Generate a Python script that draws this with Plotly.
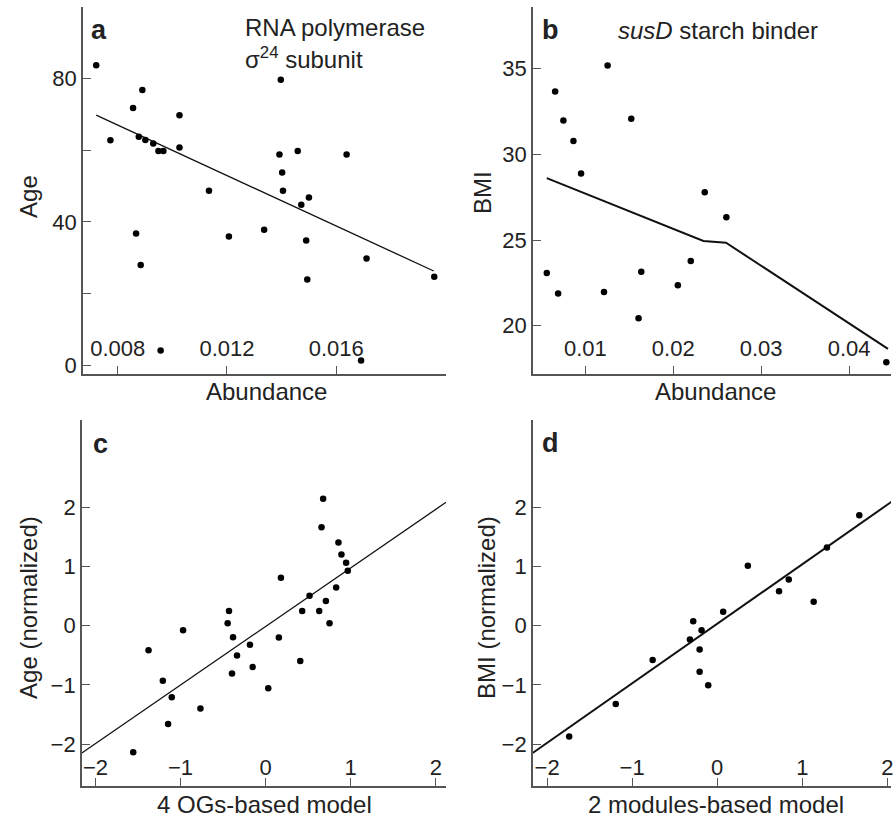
import plotly.graph_objects as go

# ---------------- data ----------------
# Panel a: RNA polymerase sigma24 subunit abundance vs age
a_abund = [0.00721, 0.00773, 0.00856, 0.00890, 0.00877, 0.00901, 0.00930, 0.00949, 0.00967,
           0.01026, 0.01026, 0.00867, 0.00884, 0.00957, 0.01134, 0.01207, 0.01336, 0.01397,
           0.01392, 0.01402, 0.01405, 0.01459, 0.01472, 0.01500, 0.01490, 0.01494, 0.01638,
           0.01711, 0.01691, 0.01959]
a_age = [83.7, 62.8, 71.8, 76.8, 63.8, 62.9, 61.9, 59.8, 59.8,
         69.8, 60.8, 36.8, 28.0, 4.1, 48.7, 35.9, 37.8, 79.7,
         58.8, 53.8, 48.7, 59.8, 44.8, 46.8, 34.8, 23.9, 58.8,
         29.8, 1.3, 24.7]
a_fit_x = [0.00721, 0.01957]
a_fit_y = [69.8, 26.3]

# Panel b: susD starch binder abundance vs BMI
b_abund = [0.00561, 0.00656, 0.00690, 0.00750, 0.00864, 0.00951, 0.01212, 0.01253,
           0.01522, 0.01605, 0.01636, 0.02052, 0.02199, 0.02358, 0.02604, 0.04424]
b_bmi = [23.08, 33.66, 21.88, 31.98, 30.78, 28.88, 21.97, 35.19,
         32.08, 20.43, 23.15, 22.36, 23.77, 27.78, 26.33, 17.87]
b_fit_x = [0.00561, 0.02249, 0.02343, 0.02600, 0.04443]
b_fit_y = [28.61, 25.11, 24.94, 24.84, 18.65]

# Panel c: 4 OGs-based model vs normalized age
c_model = [-1.556, -1.376, -1.208, -1.146, -1.103, -0.970, -0.766, -0.446, -0.430, -0.383,
           -0.395, -0.336, -0.184, -0.152, 0.031, 0.156, 0.180, 0.407, 0.430, 0.516,
           0.630, 0.657, 0.676, 0.708, 0.751, 0.829, 0.856, 0.891, 0.946, 0.966]
c_age = [-2.14, -0.415, -0.93, -1.66, -1.21, -0.078, -1.40, 0.039, 0.246, -0.196,
         -0.807, -0.504, -0.325, -0.700, -1.059, -0.202, 0.807, -0.599, 0.246, 0.504,
         0.246, 1.658, 2.14, 0.415, 0.039, 0.644, 1.40, 1.20, 1.06, 0.924]
c_fit_x = [-2.16, 2.12]
c_fit_y = [-2.15, 2.08]

# Panel d: 2 modules-based model vs normalized BMI
d_model = [-1.740, -1.193, -0.759, -0.282, -0.321, -0.184, -0.207, -0.207, -0.106, 0.070,
           0.360, 0.727, 0.841, 1.134, 1.290, 1.670]
d_bmi = [-1.871, -1.322, -0.583, 0.073, -0.235, -0.078, -0.403, -0.779, -1.008, 0.235,
         1.008, 0.577, 0.779, 0.403, 1.317, 1.860]
d_fit_x = [-2.17, 2.05]
d_fit_y = [-2.15, 2.09]

# tick labels
a_xticks = [0.008, 0.012, 0.016]
a_xlabels = ["0.008", "0.012", "0.016"]
a_xminor = [0.020]
a_yticks = [0, 40, 80]
a_ylabels = ["0", "40", "80"]
a_yminor = [20, 60]
b_xticks = [0.01, 0.02, 0.03, 0.04]
b_xlabels = ["0.01", "0.02", "0.03", "0.04"]
b_yticks = [20, 25, 30, 35]
b_ylabels = ["20", "25", "30", "35"]
cd_ticks = [-2, -1, 0, 1, 2]
cd_labels = ["\u22122", "\u22121", "0", "1", "2"]

# ---------------- figure ----------------
W, H = 893, 821
FONT = "Liberation Sans, Arial, Helvetica, sans-serif"
TXT = "#222222"
AX = "#555555"
TICK_SIZE = 22
TITLE_SIZE = 24

fig = go.Figure()

def dots(x, y, xa, ya):
    fig.add_trace(go.Scatter(x=x, y=y, mode="markers", xaxis=xa, yaxis=ya,
                             marker=dict(color="black", size=6.5, line=dict(width=0)),
                             showlegend=False, hoverinfo="skip"))

def fit(x, y, xa, ya, w):
    fig.add_trace(go.Scatter(x=x, y=y, mode="lines", xaxis=xa, yaxis=ya,
                             line=dict(color="#111111", width=w),
                             showlegend=False, hoverinfo="skip"))

fit(a_fit_x, a_fit_y, "x", "y", 1.3)
dots(a_abund, a_age, "x", "y")
fit(b_fit_x, b_fit_y, "x2", "y2", 2)
dots(b_abund, b_bmi, "x2", "y2")
fit(c_fit_x, c_fit_y, "x3", "y3", 1.3)
dots(c_model, c_age, "x3", "y3")
fit(d_fit_x, d_fit_y, "x4", "y4", 2)
dots(d_model, d_bmi, "x4", "y4")

def px_x(p):
    return p / W

def px_y(p):
    return 1 - p / H

common = dict(showline=True, linecolor=AX, linewidth=1.5, ticks="inside", ticklen=8,
              tickcolor=AX, tickwidth=1.3, showgrid=False, zeroline=False,
              tickfont=dict(family=FONT, size=TICK_SIZE, color=TXT), tickmode="array")

def minor(vals):
    if not vals:
        return dict(ticks="")
    return dict(tickmode="array", tickvals=vals, ticks="inside", ticklen=8,
                tickcolor=AX, tickwidth=1.3, showgrid=False)

def xaxis(dom, rng, vals, labels, anchor, standoff, mvals=None):
    return dict(common, domain=dom, range=rng, tickvals=vals, ticktext=labels, anchor=anchor,
                ticklabelposition="inside", ticklabeloverflow="allow",
                ticklabelstandoff=standoff, minor=minor(mvals))

def yaxis(dom, rng, vals, labels, anchor, mvals=None):
    return dict(common, domain=dom, range=rng, tickvals=vals, ticktext=labels, anchor=anchor,
                minor=minor(mvals))

left_dom = [px_x(83), px_x(447)]
right_dom = [px_x(534), 1.0]
top_dom = [px_y(376), px_y(7)]
bot_dom = [px_y(790), px_y(422)]

fig.update_layout(
    width=W, height=H,
    margin=dict(l=0, r=0, t=0, b=0),
    paper_bgcolor="white", plot_bgcolor="white",
    font=dict(family=FONT, color=TXT, size=TITLE_SIZE),
    xaxis=xaxis(left_dom, [0.00672, 0.02002], a_xticks, a_xlabels, "y", 7, a_xminor),
    yaxis=yaxis(top_dom, [-2.5, 100], a_yticks, a_ylabels, "x", a_yminor),
    xaxis2=xaxis(right_dom, [0.00402, 0.04477], b_xticks, b_xlabels, "y2", 7),
    yaxis2=yaxis(top_dom, [17.17, 38.6], b_yticks, b_ylabels, "x2"),
    xaxis3=xaxis([px_x(82), px_x(447)], [-2.16, 2.12], cd_ticks, cd_labels, "y3", 0),
    yaxis3=yaxis(bot_dom, [-2.71, 3.47], cd_ticks, cd_labels, "x3"),
    xaxis4=xaxis(right_dom, [-2.168, 2.043], cd_ticks, cd_labels, "y4", 0),
    yaxis4=yaxis(bot_dom, [-2.71, 3.47], cd_ticks, cd_labels, "x4"),
)

def note(text, x, y, size=TITLE_SIZE, angle=0, xanchor="center", bold=False):
    fig.add_annotation(text=f"<b>{text}</b>" if bold else text,
                       x=px_x(x), y=px_y(y), xref="paper", yref="paper",
                       xanchor=xanchor, yanchor="middle", showarrow=False, textangle=angle,
                       font=dict(family=FONT, size=size, color=TXT))

# panel letters
note("a", 89, 30, size=27, xanchor="left", bold=True)
note("b", 541, 30, size=27, xanchor="left", bold=True)
note("c", 91, 446, size=27, xanchor="left", bold=True)
note("d", 541, 445, size=27, xanchor="left", bold=True)

# panel headings
note("RNA polymerase", 244, 28, xanchor="left")
note("\u03c3<sup>24</sup> subunit", 244, 58, xanchor="left")
note("<i>susD</i> starch binder", 617, 31, xanchor="left")

# axis titles
note("Age", 28, 197, angle=-90)
note("Abundance", 267, 393)
note("BMI", 483, 193, angle=-90)
note("Abundance", 717, 393)
note("Age (normalized)", 28, 610, angle=-90)
note("4 OGs-based model", 265, 808)
note("BMI (normalized)", 487, 610, angle=-90)
note("2 modules-based model", 718, 808)

fig.write_html("out.html")
